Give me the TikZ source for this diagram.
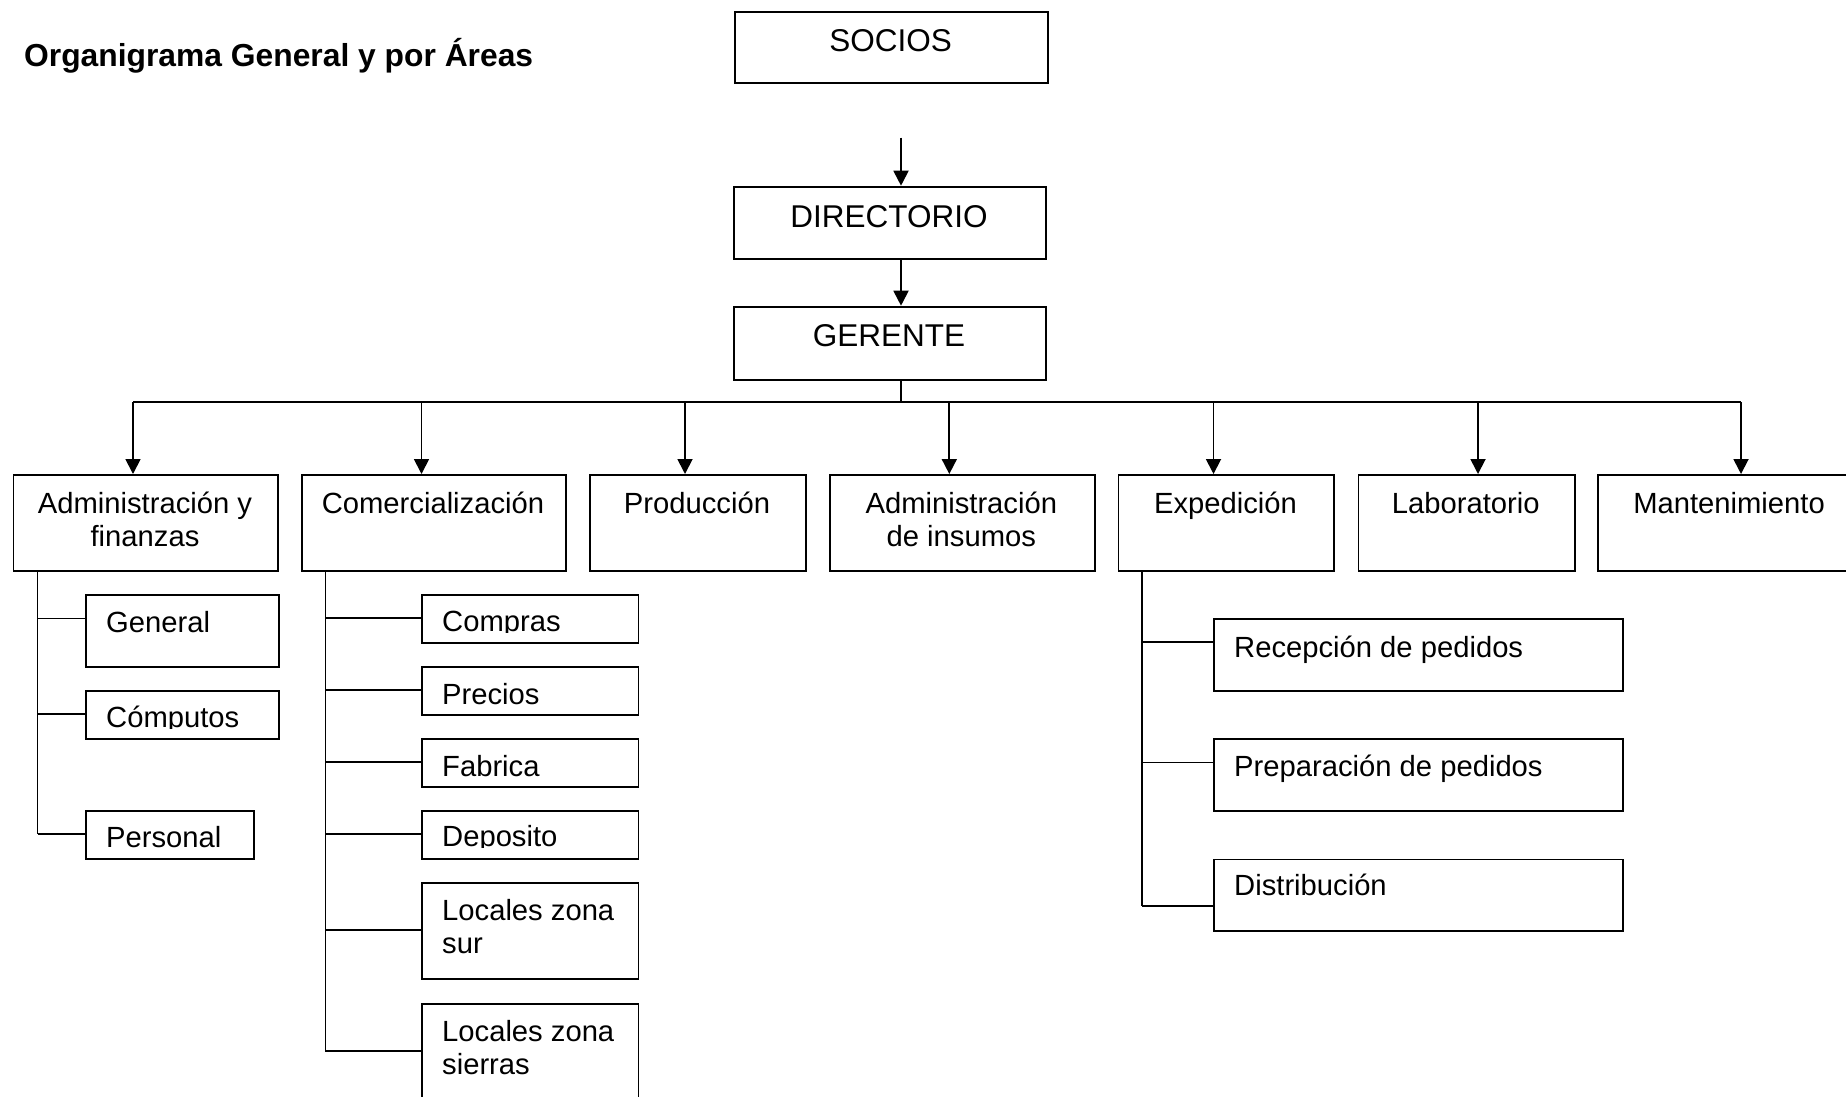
\documentclass[tikz,border=0pt]{standalone}
\usepackage{fontspec}
\setmainfont{Liberation Sans}
\usetikzlibrary{arrows.meta}
\newcommand\mkbox[5]{\node[box,minimum width={#4pt-#2pt},minimum height={#5pt-#3pt}] (#1) at (#2,#3) {};}
\begin{document}
\begin{tikzpicture}[x=1pt,y=-1pt,
  box/.style={draw,line width=1.8pt,rectangle,inner sep=0pt,anchor=north west},
  ln/.style={line width=1.8pt},
  arr/.style={line width=1.8pt,-{Triangle[length=15pt,width=15pt]}},
  big/.style={font=\fontsize{31.5}{36}\selectfont,inner sep=0pt,anchor=base},
  txt/.style={font=\fontsize{29.2}{33}\selectfont,inner sep=0pt,anchor=base},
  stxt/.style={font=\fontsize{29.2}{33}\selectfont,inner sep=0pt,anchor=base west,align=left},
]
\fill[white] (0,0) rectangle (1846,1096);
\useasboundingbox (0,0) rectangle (1846,1096);

% title
\node[anchor=base west,inner sep=0pt,font=\bfseries\fontsize{31.8}{36}\selectfont] (title) at (24,66) {Organigrama General y por Áreas};

% top boxes
\mkbox{socios}{734.3}{10.7}{1046.7}{82.3}
\node[big] (sociost) at (890.5,51.7) {SOCIOS};
\mkbox{dir}{733}{185.7}{1045}{258.3}
\node[big] (dirt) at (889,227.7) {DIRECTORIO};
\mkbox{ger}{733}{305.7}{1045}{379}
\node[big] (gert) at (889,346.7) {GERENTE};

\coordinate (s0) at (901,137.7);
\draw[arr] (s0) -- (s0 |- dir.north);
\draw[arr] (dir.south -| s0) -- (ger.north -| s0);
\coordinate (g0) at (901,402);
\draw[ln] (ger.south -| g0) -- (g0);

% level boxes
\mkbox{adm}{12.5}{474}{277}{570}
\mkbox{com}{301}{474}{565}{570}
\mkbox{prod}{589}{474}{805}{570}
\mkbox{ins}{829.3}{474}{1094}{570}
\mkbox{exp}{1117.5}{474}{1333}{570}
\mkbox{lab}{1357.6}{474}{1574}{570}
\mkbox{man}{1597}{474}{1861}{570}

\node[txt,align=center] (admt) at (145,546) {Administración y\\finanzas};
\node[txt] (comt) at (433,513) {Comercialización};
\node[txt] (prodt) at (697,513) {Producción};
\node[txt,align=center] (inst) at (961.3,546) {Administración\\de insumos};
\node[txt] (expt) at (1225.5,513) {Expedición};
\node[txt] (labt) at (1465.8,513) {Laboratorio};
\node[txt] (mant) at (1729,513) {Mantenimiento};

% bar and arrows
\coordinate (b1) at (133,402);
\coordinate (b2) at (421.5,402);
\coordinate (b3) at (685,402);
\coordinate (b4) at (949.3,402);
\coordinate (b5) at (1213.5,402);
\coordinate (b6) at (1478,402);
\coordinate (b7) at (1741,402);
\draw[ln] (b1) -- (b7);
\draw[arr] (b1) -- (b1 |- adm.north);
\draw[arr] (b2) -- (b2 |- com.north);
\draw[arr] (b3) -- (b3 |- prod.north);
\draw[arr] (b4) -- (b4 |- ins.north);
\draw[arr] (b5) -- (b5 |- exp.north);
\draw[arr] (b6) -- (b6 |- lab.north);
\draw[arr] (b7) -- (b7 |- man.north);

% Administracion subtree
\mkbox{gen}{85}{594}{277.7}{666}
\mkbox{cmp}{85}{690}{277.7}{738}
\mkbox{per}{85}{810}{253}{858}
\node[stxt] (gent) at (106,632) {General};
\begin{scope}\clip (85,690) rectangle (277.7,728.5);
\node[stxt] (cmpt) at (106,727.6) {Cómputos};
\end{scope}
\begin{scope}\clip (85,810) rectangle (253,848);
\node[stxt] (pert) at (106,847.4) {Personal};
\end{scope}
\coordinate (a1) at (37.5,618.4);
\coordinate (a2) at (37.5,714);
\coordinate (a3) at (37.5,834);
\draw[ln] (adm.south -| a1) -- (a3);
\draw[ln] (a1) -- (a1 -| gen.west);
\draw[ln] (a2) -- (a2 -| cmp.west);
\draw[ln] (a3) -- (a3 -| per.west);

% Comercializacion subtree
\mkbox{cpr}{421}{594}{637.5}{642}
\mkbox{pre}{421}{666}{637.5}{714}
\mkbox{fab}{421}{738}{637.5}{786}
\mkbox{dep}{421}{810}{637.5}{858}
\mkbox{sur}{421}{882}{637.5}{978}
\mkbox{sie}{421}{1002.7}{637.5}{1120}
\begin{scope}\clip (421,594) rectangle (637.5,632);
\node[stxt] (cprt) at (442,631) {Compras};
\end{scope}
\begin{scope}\clip (421,666) rectangle (637.5,705);
\node[stxt] (pret) at (442,704) {Precios};
\end{scope}
\begin{scope}\clip (421,738) rectangle (637.5,777);
\node[stxt] (fabt) at (442,776) {Fabrica};
\end{scope}
\begin{scope}\clip (421,810) rectangle (637.5,847.5);
\node[stxt] (dept) at (442,846) {Deposito};
\end{scope}
\node[stxt] (surt) at (442,953) {Locales zona\\sur};
\node[stxt] (siet) at (442,1074.7) {Locales zona\\sierras};
\coordinate (c1) at (325.4,618);
\coordinate (c2) at (325.4,690);
\coordinate (c3) at (325.4,762);
\coordinate (c4) at (325.4,834);
\coordinate (c5) at (325.4,930);
\coordinate (c6) at (325.4,1050.7);
\draw[ln] (com.south -| c1) -- (c6);
\draw[ln] (c1) -- (c1 -| cpr.west);
\draw[ln] (c2) -- (c2 -| pre.west);
\draw[ln] (c3) -- (c3 -| fab.west);
\draw[ln] (c4) -- (c4 -| dep.west);
\draw[ln] (c5) -- (c5 -| sur.west);
\draw[ln] (c6) -- (c6 -| sie.west);

% Expedicion subtree
\mkbox{rec}{1213}{618}{1622}{690.4}
\mkbox{prep}{1213}{738}{1622}{810}
\mkbox{dist}{1213}{858.6}{1622}{930.4}
\node[stxt] (rect) at (1234,657) {Recepción de pedidos};
\node[stxt] (prept) at (1234,776) {Preparación de pedidos};
\node[stxt] (distt) at (1234,895) {Distribución};
\coordinate (e1) at (1142,641.8);
\coordinate (e2) at (1142,762.5);
\coordinate (e3) at (1142,906);
\draw[ln] (exp.south -| e1) -- (e3);
\draw[ln] (e1) -- (e1 -| rec.west);
\draw[ln] (e2) -- (e2 -| prep.west);
\draw[ln] (e3) -- (e3 -| dist.west);
\end{tikzpicture}
\end{document}
